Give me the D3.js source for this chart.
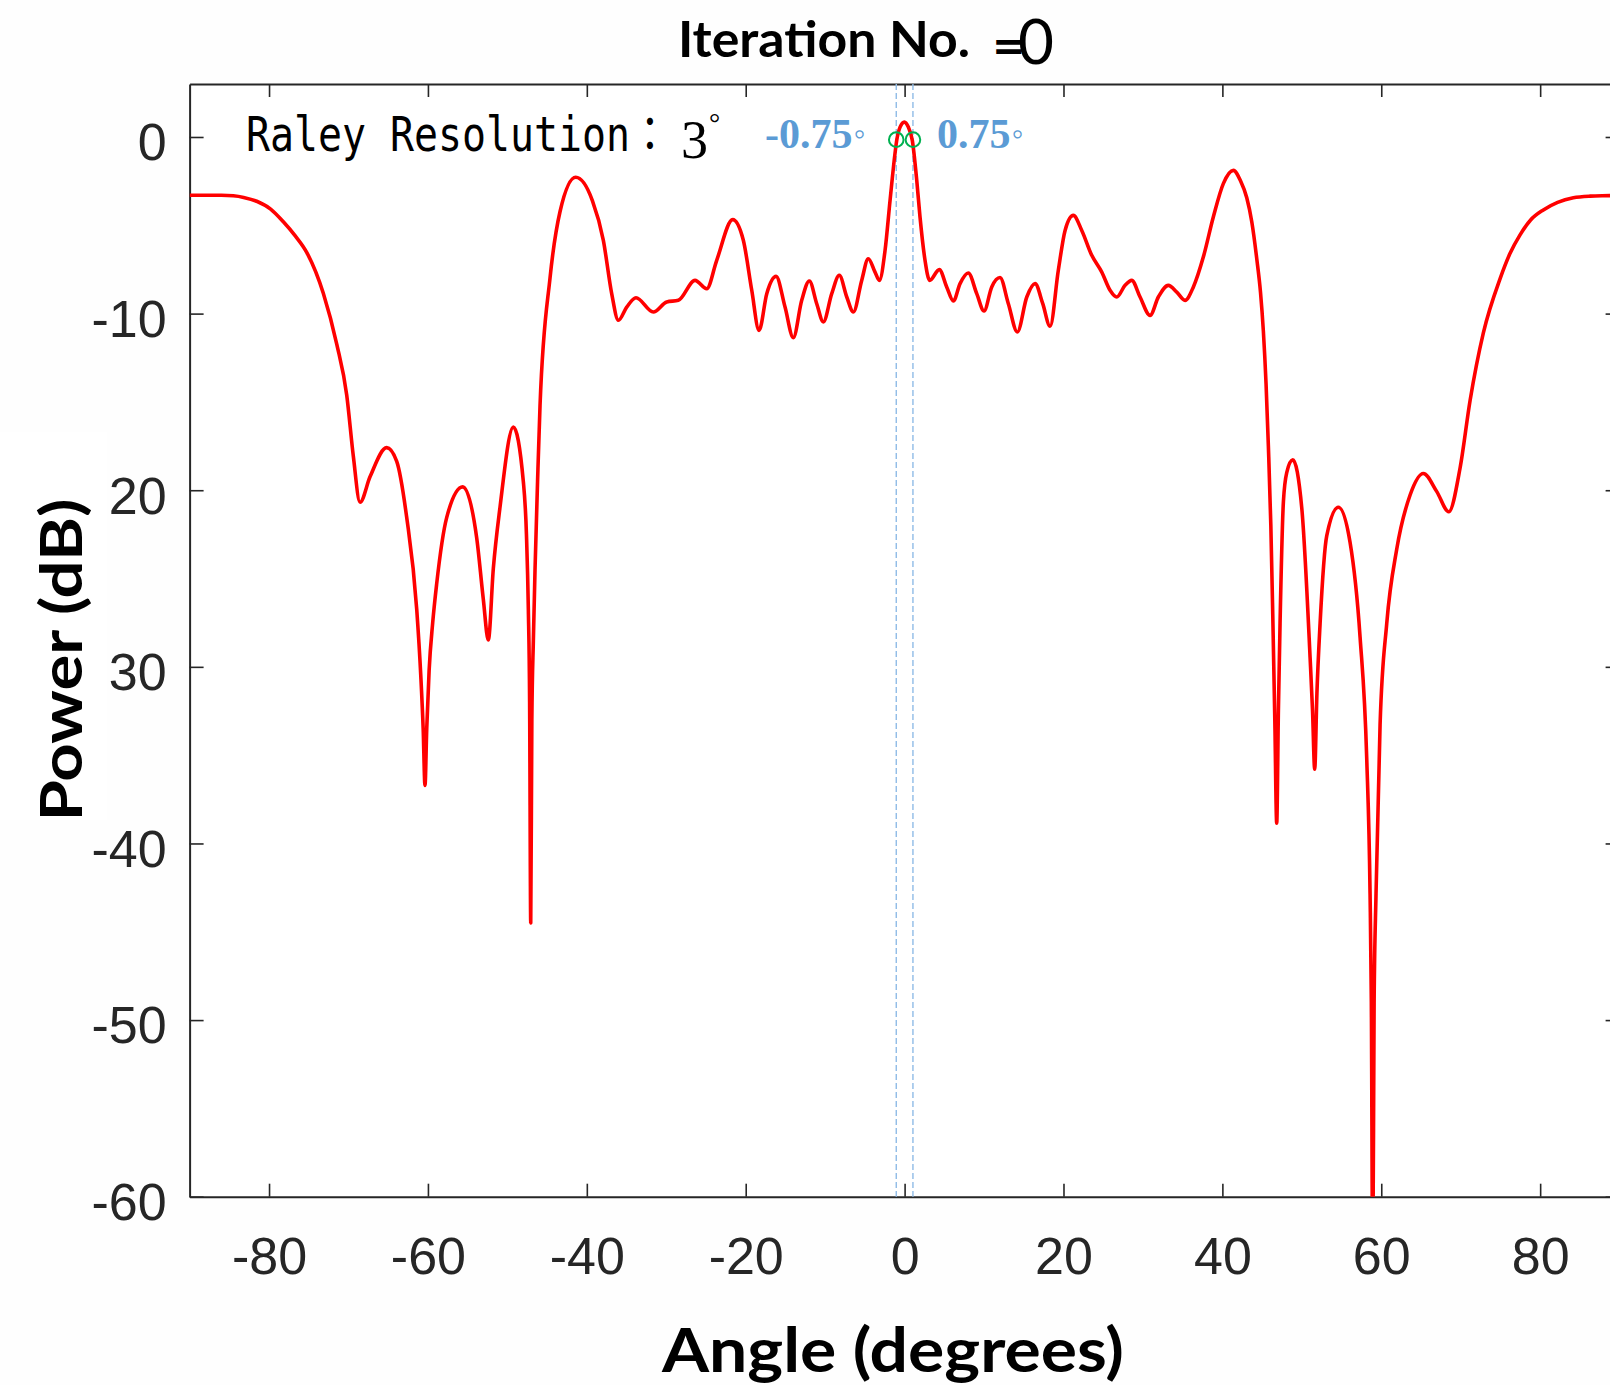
<!DOCTYPE html>
<html lang="en">
<head>
<meta charset="UTF-8">
<title>Iteration No. =0</title>
<script src="https://cdn.jsdelivr.net/npm/d3@7"></script>
<style>
  html, body { margin: 0; padding: 0; background: #fefefe; }
  svg { display: block; }
</style>
</head>
<body>
<div id="chart"></div>
<script>
// beam pattern: angle (degrees) and power (dB)
const angles = [
  -90, -86, -84.5, -83.2, -81.55, -79.8, -78.2, -76.7, -75.26, -73.17,
  -71.48, -70.22, -69.39, -68.55, -67.29, -65.19, -63.93, -62.67, -61.41, -60.9,
  -60.6, -60.37, -60.15, -59.85, -59.4, -58.9, -57.64, -55.62, -53.86, -53.03,
  -52.4, -51.77, -50.93, -49.25, -47.99, -47.6, -47.36, -47.2, -47.06, -46.92,
  -46.73, -46.52, -46.2, -45.89, -44.63, -43.37, -41.4, -39.3, -37.92, -36.87,
  -36.03, -34.98, -33.81, -31.63, -29.94, -28.48, -26.38, -24.91, -23.65, -21.63,
  -20.3, -19.24, -18.32, -17.35, -16.18, -15.05, -14.01, -12.95, -11.99, -11.06,
  -10.23, -9.17, -8.22, -7.28, -6.45, -5.4, -4.57, -3.72, -3.18, -2.46,
  -1.83, -1.2, -0.99, -0.57, -0.03, 0.47, 0.97, 1.53, 1.94, 2.57,
  3.15, 4.37, 5.3, 6.14, 6.98, 8.02, 9.08, 10.0, 10.97, 12.01,
  13.06, 14.19, 15.38, 16.42, 17.39, 18.31, 19.35, 20.2, 21.24, 22.3,
  23.56, 24.82, 25.86, 26.7, 27.75, 28.59, 29.64, 30.9, 31.94, 33.2,
  34.26, 35.3, 36.35, 37.6, 38.86, 40.12, 41.38, 42.3, 43.07, 43.7,
  44.33, 44.8, 45.16, 45.5, 45.79, 46.1, 46.34, 46.6, 46.84, 47.05,
  47.26, 47.68, 48.1, 48.86, 50.0, 51.04, 51.35, 51.62, 51.9, 52.3,
  53.14, 54.6, 56.07, 57.33, 58.17, 58.59, 58.75, 58.93, 59.1, 59.34,
  59.85, 60.69, 61.95, 63.63, 65.3, 66.99, 68.5, 69.92, 71.18, 72.85,
  74.95, 76.2, 77.47, 78.8, 80.4, 82.2, 84.18, 86.3, 88.8, 90
];
const powers = [
  -3.30, -3.30, -3.33, -3.42, -3.64, -4.08, -4.80, -5.6, -6.53, -8.85,
  -11.73, -14.62, -18.08, -20.68, -19.24, -17.59, -18.37, -21.55, -26.75, -30.5,
  -33.5, -36.71, -33.5, -30.2, -27.5, -25.3, -21.55, -19.81, -22.7, -26.17,
  -28.48, -24.44, -20.97, -16.43, -19.52, -22.5, -26.75, -32, -44.5, -33,
  -28.5, -24.5, -19.5, -15.2, -7.98, -4.22, -2.28, -3.6, -5.85, -8.87,
  -10.38, -9.63, -9.1, -9.91, -9.34, -9.25, -8.12, -8.59, -6.98, -4.68,
  -5.85, -8.68, -10.95, -8.87, -7.89, -9.63, -11.36, -9.25, -8.15, -9.44,
  -10.47, -8.87, -7.83, -9.06, -9.91, -8.12, -6.89, -7.65, -8.12, -6.42,
  -3.59, -0.9, -0.19, 0.56, 0.84, 0.56, -0.19, -2.46, -4.53, -6.98,
  -8.12, -7.51, -8.49, -9.29, -8.3, -7.7, -8.87, -9.85, -8.49, -7.96,
  -9.44, -11.04, -9.06, -8.3, -9.44, -10.72, -7.55, -5.29, -4.44, -5.29,
  -6.7, -7.65, -8.68, -9.06, -8.4, -8.12, -9.06, -10.1, -9.06, -8.4,
  -8.78, -9.25, -8.49, -6.8, -4.53, -2.64, -1.89, -2.5, -3.44, -4.8,
  -6.9, -8.8, -11.0, -14.0, -17.5, -22.0, -27.0, -33.0, -38.85, -32.5,
  -27.54, -20.66, -19.0, -18.28, -21.04, -29.46, -32.5, -35.8, -31.5, -27.54,
  -22.57, -20.96, -22.95, -28.3, -35.19, -42.85, -49, -64, -49, -42.85,
  -33.28, -27.54, -23.33, -20.27, -19.05, -20.08, -21.22, -18.74, -14.92, -11.09,
  -8.03, -6.6, -5.54, -4.7, -4.13, -3.7, -3.44, -3.35, -3.32, -3.30
];

const xTicks = [-80, -60, -40, -20, 0, 20, 40, 60, 80];
const yTicks = [0, -10, -20, -30, -40, -50, -60];

// half-power markers as drawn in the figure
const markerAngles = [-1.05, 1.05];
const markerPower = -0.15;
const markerLabels = ["-0.75", "0.75"];

const width = 1610, height = 1385;
const axisColor = "#262626";
const sans = "'Liberation Sans', Arial, Helvetica, sans-serif";
const bold = "Lato, 'Open Sans', sans-serif";
const serif = "'Liberation Serif', 'Times New Roman', serif";

const svg = d3.select("#chart").append("svg")
  .attr("width", width)
  .attr("height", height);

const x = d3.scaleLinear().domain([-90, 90]).range([189.6, 1619.6]);
const y = d3.scaleLinear().domain([-60, 3]).range([1196.7, 84]);

// plot background
svg.append("rect")
  .attr("x", x(-90)).attr("y", y(3))
  .attr("width", x(90) - x(-90)).attr("height", y(-60) - y(3))
  .attr("fill", "#ffffff");

svg.append("clipPath").attr("id", "plotClip")
  .append("rect")
  .attr("x", x(-90)).attr("y", y(3))
  .attr("width", x(90) - x(-90)).attr("height", y(-60) - y(3));

// axes
const fmt = d => String(d);
const gx = svg.append("g").attr("transform", `translate(0,${y(-60)})`)
  .call(d3.axisBottom(x).tickValues(xTicks).tickSize(-13).tickSizeOuter(0).tickPadding(40).tickFormat(fmt));
const gxTop = svg.append("g").attr("transform", `translate(0,${y(3)})`)
  .call(d3.axisTop(x).tickValues(xTicks).tickSize(-13).tickSizeOuter(0).tickFormat(""));
const gy = svg.append("g").attr("transform", `translate(${x(-90)},0)`)
  .call(d3.axisLeft(y).tickValues(yTicks).tickSize(-14).tickSizeOuter(0).tickPadding(23).tickFormat(fmt));
const gyRight = svg.append("g").attr("transform", `translate(${x(90)},0)`)
  .call(d3.axisRight(y).tickValues(yTicks).tickSize(-14).tickSizeOuter(0).tickFormat(""));

[gx, gxTop, gy, gyRight].forEach(g => {
  g.select(".domain").attr("stroke", axisColor).attr("stroke-width", 2);
  g.selectAll(".tick line").attr("stroke", axisColor).attr("stroke-width", 1.6);
  g.selectAll(".tick text")
    .attr("fill", axisColor)
    .attr("font-family", sans)
    .attr("font-size", 52);
});
gx.selectAll(".tick text").attr("dy", "0.71em");
gy.selectAll(".tick text").attr("dy", "0.44em");

// markers: dashed lines
svg.append("g").selectAll("line")
  .data(markerAngles)
  .join("line")
  .attr("x1", d => x(d)).attr("x2", d => x(d))
  .attr("y1", y(3)).attr("y2", y(-60))
  .attr("stroke", "#8fbbe6")
  .attr("stroke-width", 1.4)
  .attr("stroke-dasharray", "6,3");

// beam pattern
const line = d3.line()
  .x((d, i) => x(angles[i]))
  .y(d => y(d))
  .curve(d3.curveMonotoneX);

svg.append("path")
  .datum(powers)
  .attr("clip-path", "url(#plotClip)")
  .attr("fill", "none")
  .attr("stroke", "#ff0000")
  .attr("stroke-width", 3.6)
  .attr("stroke-linejoin", "round")
  .attr("d", line);

svg.append("g").selectAll("circle")
  .data(markerAngles)
  .join("circle")
  .attr("cx", d => x(d))
  .attr("cy", y(markerPower))
  .attr("r", 7.3)
  .attr("fill", "none")
  .attr("stroke", "#00b050")
  .attr("stroke-width", 2);

// marker labels
const mlab = svg.append("g")
  .attr("font-family", serif)
  .attr("font-weight", "bold")
  .attr("fill", "#5b9bd5");
[[765, markerLabels[0]], [937, markerLabels[1]]].forEach(([px, t]) => {
  const txt = mlab.append("text").attr("x", px).attr("y", 148).attr("font-size", 42);
  txt.append("tspan").text(t);
  txt.append("tspan").attr("font-size", 34).attr("font-weight", "normal").attr("dy", -3).attr("dx", 1).text("◦");
});

// Rayleigh resolution note
svg.append("text")
  .attr("x", 246).attr("y", 151)
  .attr("font-family", "'DejaVu Sans Mono', 'Liberation Mono', 'Noto Sans CJK JP', monospace")
  .attr("font-size", 48)
  .attr("textLength", 424)
  .attr("lengthAdjust", "spacingAndGlyphs")
  .attr("fill", "#000")
  .text("Raley Resolution：");
const res = svg.append("text")
  .attr("x", 681).attr("y", 158)
  .attr("font-family", serif)
  .attr("fill", "#000");
res.append("tspan").attr("font-size", 54).text("3");
res.append("tspan").attr("font-size", 28).attr("dx", 1).attr("dy", -26).text("°");

// title
svg.append("text")
  .attr("x", 678).attr("y", 56.5)
  .attr("font-family", bold).attr("font-weight", "bold")
  .attr("font-size", 50)
  .attr("textLength", 292).attr("lengthAdjust", "spacingAndGlyphs")
  .attr("fill", "#000")
  .text("Iteration No.");
const iter = svg.append("text")
  .attr("x", 992).attr("y", 60)
  .attr("fill", "#000");
iter.append("tspan")
  .attr("font-family", "'DejaVu Sans', sans-serif").attr("font-weight", "bold")
  .attr("font-size", 40)
  .text("=");
iter.append("tspan")
  .attr("x", 1018).attr("dy", 3.5)
  .attr("font-family", bold)
  .attr("font-size", 62)
  .text("0");

// y label with its white backing
svg.append("rect")
  .attr("x", 0).attr("y", 432).attr("width", 107).attr("height", 388)
  .attr("fill", "#ffffff");
svg.append("text")
  .attr("transform", "translate(82,660) rotate(-90)")
  .attr("text-anchor", "middle")
  .attr("font-family", bold).attr("font-weight", "bold")
  .attr("font-size", 58)
  .attr("textLength", 323).attr("lengthAdjust", "spacingAndGlyphs")
  .attr("fill", "#000")
  .text("Power (dB)");

// x label
svg.append("text")
  .attr("x", 893).attr("y", 1372)
  .attr("text-anchor", "middle")
  .attr("font-family", bold).attr("font-weight", "bold")
  .attr("font-size", 62)
  .attr("textLength", 462).attr("lengthAdjust", "spacingAndGlyphs")
  .attr("fill", "#000")
  .text("Angle (degrees)");
</script>
</body>
</html>
